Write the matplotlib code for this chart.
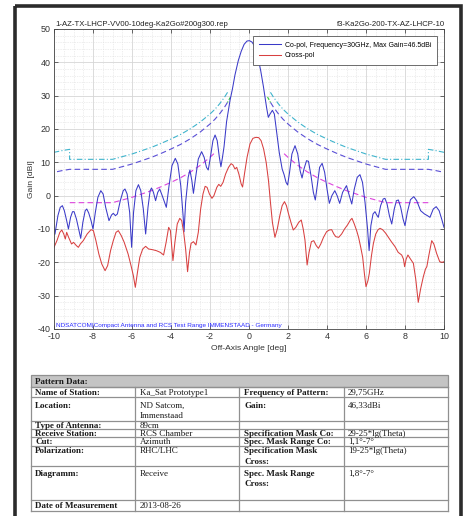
import numpy as np
import matplotlib
matplotlib.use("Agg")
import matplotlib.pyplot as plt
from matplotlib.patches import Rectangle
from matplotlib.ticker import MultipleLocator

# Co-pol pattern (deg, dBi)
co_deg = [-9.95, -9.8, -9.68, -9.57, -9.47, -9.35, -9.26, -9.15, -9.05, -8.97, -8.85, -8.72,
          -8.63, -8.52, -8.4, -8.32, -8.22, -8.1, -8.0, -7.88, -7.75, -7.6, -7.48, -7.35,
          -7.18, -7.05, -6.96, -6.85, -6.75, -6.6, -6.45, -6.36, -6.25, -6.12, -6.02, -5.92,
          -5.8, -5.67, -5.55, -5.42, -5.3, -5.18, -5.07, -5.0, -4.9, -4.79, -4.68, -4.58,
          -4.45, -4.24, -4.1, -3.95, -3.78, -3.65, -3.5, -3.38, -3.33, -3.25, -3.12, -3.03,
          -2.93, -2.85, -2.75, -2.6, -2.43, -2.3, -2.18, -2.09, -1.98, -1.85, -1.74, -1.63,
          -1.52, -1.44, -1.36, -1.28, -1.15, -0.97, -0.85, -0.72, -0.55, -0.4, -0.25, -0.1,
          0.02, 0.15, 0.3, 0.45, 0.6, 0.74, 0.9, 0.99, 1.08, 1.2, 1.3, 1.42, 1.55, 1.7, 1.8,
          1.9, 1.98, 2.08, 2.2, 2.36, 2.5, 2.62, 2.72, 2.82, 2.95, 3.05, 3.18, 3.3, 3.4, 3.5,
          3.62, 3.75, 3.88, 4.0, 4.12, 4.25, 4.4, 4.52, 4.65, 4.8, 5.0, 5.12, 5.27, 5.4, 5.55,
          5.69, 5.82, 5.95, 6.08, 6.16, 6.25, 6.36, 6.46, 6.55, 6.63, 6.75, 6.88, 6.97, 7.08,
          7.2, 7.32, 7.45, 7.56, 7.66, 7.78, 7.9, 8.0, 8.12, 8.28, 8.45, 8.6, 8.8, 9.0, 9.15,
          9.28, 9.45, 9.6, 9.75, 9.88, 10.0]
co_gain = [-11.5, -6, -3.5, -3.0, -4.5, -7.5, -10.0, -6.5, -4.8, -4.8, -7, -10.5,
           -12.8, -8, -4.5, -4.0, -5.2, -7.5, -10.0, -5, -0.5, 1.5, 0.5, -3.5,
           -7.5, -5.8, -5.3, -6.0, -5.5, -1.5, 1.5, 2.0, 0.5, -5, -15.5, -5,
           1.5, 3.3, 1.5, -4, -11.5, -3.5, 1.5, 2.3, 1.0, -1.5, 1.0, 2.0,
           0, -3.5, 3, 9, 11.2, 9.5, 3, -6, -10.8, -2, 5.5, 7.7,
           4.5, 0.7, 5, 11, 13.2, 11.5, 8.5, 7.7, 11.5, 16.5, 18.2, 16.5,
           11.5, 8.7, 11.5, 14.7, 22.2, 28.7, 32, 36.2, 40.5, 43.3, 45.4, 46.4,
           46.5, 46.1, 44.8, 41.8, 37.5, 32.7, 26.5, 23.5, 24.5, 25.6, 24.5, 19, 13, 8, 6.3,
           4, 3.2, 7, 12.5, 15.0, 12.5, 7.5, 5.3, 8, 10.5, 10.3, 6, 1, -1.3, 3,
           8.5, 9.7, 7, 2, -2.3, 0, 1.5, 0, -2.3, 1, 3.0, 0.5, -2.5, 2, 5.5,
           6.3, 4, -2, -10, -16.5, -9, -5.5, -4.8, -5.8, -6.5, -3, -1, -0.8, -2.5,
           -6, -8.5, -4, -1.5, -1.3, -3.5, -7, -9.0, -5, -1.2, -0.3, -1.5, -4.5, -5.5, -6.0,
           -6.5, -4, -3.3, -4.5, -7, -9.5]

# Cross-pol pattern (deg, dBi)
x_deg = [-10.0, -9.85, -9.7, -9.6, -9.5, -9.42, -9.35, -9.25, -9.1, -9.0, -8.85, -8.75,
         -8.65, -8.5, -8.3, -8.1, -7.98, -7.85, -7.7, -7.55, -7.38, -7.25, -7.1, -6.96,
         -6.82, -6.7, -6.55, -6.4, -6.2, -6.05, -5.93, -5.83, -5.72, -5.6, -5.45, -5.3,
         -5.15, -4.95, -4.75, -4.55, -4.38, -4.25, -4.12, -4.03, -3.95, -3.9, -3.8, -3.68,
         -3.55, -3.45, -3.35, -3.25, -3.15, -3.05, -2.97, -2.85, -2.72, -2.6, -2.48, -2.36,
         -2.25, -2.15, -2.03, -1.9, -1.8, -1.65, -1.55, -1.45, -1.33, -1.2, -1.05, -0.92,
         -0.82, -0.72, -0.63, -0.52, -0.4, -0.33, -0.22, -0.1, 0.05, 0.2, 0.35, 0.5, 0.62,
         0.75, 0.88, 1.0, 1.1, 1.2, 1.33, 1.45, 1.58, 1.7, 1.82, 1.92, 2.02, 2.15, 2.27,
         2.4, 2.55, 2.68, 2.78, 2.87, 2.98, 3.08, 3.2, 3.32, 3.45, 3.56, 3.68, 3.82, 3.98,
         4.12, 4.24, 4.35, 4.45, 4.6, 4.75, 4.9, 5.05, 5.2, 5.28, 5.4, 5.52, 5.62, 5.73,
         5.83, 5.92, 6.0, 6.1, 6.17, 6.28, 6.38, 6.5, 6.62, 6.72, 6.85, 7.0, 7.15, 7.3,
         7.49, 7.65, 7.83, 7.92, 7.98, 8.06, 8.15, 8.28, 8.43, 8.55, 8.68, 8.8, 8.94, 9.05,
         9.12, 9.22, 9.37, 9.48, 9.62, 9.78, 9.9, 10.0]
x_gain = [-15.5, -13.5, -11, -10.3, -11.5, -13, -11, -12.5, -14.5, -14, -15, -15.5,
          -14.5, -13.5, -11.5, -10.2, -10.5, -13.5, -17.5, -20.5, -22.5, -21, -16.5, -13.5,
          -11, -10.5, -12, -14, -17.5, -21, -24, -27.5, -23, -18.5, -16, -15.2,
          -16, -16.2, -16.5, -17, -17.8, -14, -9.5, -10.5, -16, -19.5, -14, -8.5,
          -6.8, -7.5, -11, -16, -22.8, -17, -14.3, -13.8, -14.8, -11, -4, 0.5,
          2.8, 2.5, 0.5, -0.8, 0, 2.5, 3.4, 2.8, 4, 6.5, 8.5, 9.6,
          9.2, 8, 8.5, 6.5, 3.5, 2.6, 7, 11.5, 15.5, 17.2, 17.5, 17.4, 16.5,
          14, 10, 4.5, -2, -8, -12.5, -10, -6, -3, -1.8, -3, -5.3, -8, -10.3,
          -9.5, -8, -7.3, -10, -13.3, -20.8, -17, -13.8, -13.5, -15, -15.8, -14.5, -12.5, -10.8,
          -10.3, -10.2, -11.5, -12.3, -12.5, -11.5, -10, -8.8, -7.3, -6.8, -8.5, -10.5, -12.5, -15.5,
          -18.5, -23.5, -27.3, -25.5, -23.3, -18, -14.3, -11.5, -10.2, -9.8, -10.2, -11.2, -12.5, -13.8,
          -15.3, -17, -17.8, -19, -21.3, -19, -17.8, -19, -20.3, -25, -32.0, -28, -24.3, -22,
          -21.3, -18, -13.5, -14.5, -17.3, -19.8, -20, -19.8]

mask_co_theta = [1.1, 1.25, 1.5, 1.75, 2.0, 2.5, 3.0, 3.5, 4.0, 4.5, 5.0, 5.5, 6.0, 6.5, 7.0, 9.2, 9.6, 10.0]
mask_co_gain = [28.0, 26.6, 24.6, 22.9, 21.5, 19.1, 17.1, 15.4, 14.0, 12.7, 11.5, 10.5, 9.5, 8.7, 7.9, 7.9, 7.5, 7.0]
mask_tol_theta = [1.1, 1.25, 1.5, 1.75, 2.0, 2.5, 3.0, 3.5, 4.0, 4.5, 5.0, 5.5, 6.0, 6.5, 7.0, 9.2, 9.2, 9.6, 10.0]
mask_tol_gain = [31.0, 29.6, 27.6, 25.9, 24.5, 22.1, 20.1, 18.4, 17.0, 15.7, 14.5, 13.5, 12.5, 11.7, 10.9, 10.9, 13.9, 13.5, 13.0]
mask_x_theta = [1.8, 2.0, 2.5, 3.0, 3.5, 4.0, 4.5, 5.0, 5.5, 6.0, 6.5, 7.0, 9.2]
mask_x_gain = [12.6, 11.5, 9.1, 7.1, 5.4, 4.0, 2.7, 1.5, 0.5, -0.5, -1.3, -2.1, -2.1]
mask_near_theta = [0.95, 1.1]
mask_near_gain = [29.6, 28.0]

# table contents
row_labels = ["Name of Station:", "Location:", "Type of Antenna:", "Receive Station:", "Cut:",
              "Polarization:", "Diagramm:", "Date of Measurement"]
row_values = ["Ka_Sat Prototype1", "ND Satcom,\nImmenstaad", "89cm", "RCS Chamber", "Azimuth",
              "RHC/LHC", "Receive", "2013-08-26"]
spec_labels = ["Frequency of Pattern:", "Gain:", "", "Specification Mask Co:", "Spec. Mask Range Co:",
               "Specification Mask\nCross:", "Spec. Mask Range\nCross:", ""]
spec_values = ["29,75GHz", "46,33dBi", "", "29-25*lg(Theta)", "1,1°-7°", "19-25*lg(Theta)", "1,8°-7°", ""]

plt.rcParams['font.family'] = ['Liberation Sans', 'DejaVu Sans']
plt.rcParams['axes.unicode_minus'] = False
W, H = 465, 516
fig = plt.figure(figsize=(W / 100, H / 100), dpi=100)
fig.patch.set_facecolor('white')

ax = fig.add_axes([54 / W, 1 - 329 / H, 390 / W, 300 / H])
ax.set_xlim(-10, 10)
ax.set_ylim(-40, 50)
ax.xaxis.set_major_locator(MultipleLocator(2))
ax.xaxis.set_minor_locator(MultipleLocator(0.5))
ax.yaxis.set_major_locator(MultipleLocator(10))
ax.yaxis.set_minor_locator(MultipleLocator(2))
ax.grid(which='major', color='#d6d6d6', lw=0.6)
ax.grid(which='minor', color='#dedede', lw=0.5, ls=(0, (1, 1.5)))
ax.set_axisbelow(True)
ax.tick_params(which='both', direction='in', top=True, right=True, colors='#333333', labelsize=6.4)
ax.tick_params(which='major', length=3, width=0.5, pad=2.5)
ax.tick_params(which='minor', length=0)
for s in ax.spines.values():
    s.set_color('#444444')
    s.set_linewidth(0.6)

# masks on both sides
for sgn in (-1, 1):
    ax.plot(sgn * np.array(mask_tol_theta), mask_tol_gain, color='#3fb4cc', lw=0.8, ls=(0, (5, 2, 1, 2)))
    ax.plot(sgn * np.array(mask_co_theta), mask_co_gain, color='#5a4fd6', lw=0.8, ls=(0, (5, 3)))
    ax.plot(sgn * np.array(mask_x_theta), mask_x_gain, color='#dd44dd', lw=0.8, ls=(0, (5, 3)))
    ax.plot(sgn * np.array(mask_near_theta), mask_near_gain, color='#33cc33', lw=0.8, ls=(0, (3, 1.5, 1, 1.5)))

l1, = ax.plot(co_deg, co_gain, color='#3a3ac8', lw=0.75)
l2, = ax.plot(x_deg, x_gain, color='#d84040', lw=0.75)

leg = ax.legend([l1, l2], ['Co-pol, Frequency=30GHz, Max Gain=46.5dBi', 'Cross-pol'],
                loc='upper right', bbox_to_anchor=(0.982, 0.977), borderaxespad=0, fontsize=5.0,
                handlelength=3.2, handletextpad=0.45, borderpad=0.85, labelspacing=0.5,
                fancybox=False, framealpha=1, edgecolor='#555555')
leg.get_frame().set_linewidth(0.6)

ax.set_xlabel('Off-Axis Angle [deg]', fontsize=6.1, color='#333333', labelpad=2.5)
ax.set_ylabel('Gain [dBi]', fontsize=6.1, color='#333333', labelpad=2)
ax.text(-9.92, -38.9, 'NDSATCOM|Compact Antenna and RCS Test Range IMMENSTAAD - Germany',
        fontsize=4.6, color='#2a2aff', va='center', ha='left')

# overlay in pixel coordinates for titles, table and frame
ov = fig.add_axes([0, 0, 1, 1])
ov.set_xlim(0, W)
ov.set_ylim(H, 0)
ov.axis('off')
ov.patch.set_visible(False)

ov.text(55, 24.5, '1-AZ-TX-LHCP-VV00-10deg-Ka2Go#200g300.rep', fontsize=5.55, color='#222222', va='center')
ov.text(445, 24.5, 'f3-Ka2Go-200-TX-AZ-LHCP-10', fontsize=5.55, color='#222222', va='center', ha='right')

# frame
ov.add_patch(Rectangle((15, 5.5), 445.5, 530, fill=False, lw=2.6, edgecolor='#2b2b2b', clip_on=False))

# table
tl, tr = 31, 448
cols = [31, 135, 239, 344, 448]
rows = [387, 397, 421, 429, 437, 446, 466, 500, 511]
text_y = [392.5, 405, 425, 433.3, 441.7, 450.8, 473.3, 505.6]
ov.add_patch(Rectangle((tl, 375), tr - tl, 12, facecolor='#c4c4c4', edgecolor='#909090', lw=0.9))
tkw = dict(fontsize=6.5, family='Liberation Serif', color='#1a1a1a', va='baseline')
ov.text(35, 381 + 2.6, 'Pattern Data:', fontweight='bold', **tkw)
for y in rows:
    ov.plot([tl, tr], [y, y], color='#909090', lw=0.9)
for x in cols:
    ov.plot([x, x], [rows[0], rows[-1]], color='#909090', lw=0.9)

cells = [(row_labels, cols[0] + 4, 'bold'), (row_values, cols[1] + 5, 'normal'),
         (spec_labels, cols[2] + 5, 'bold'), (spec_values, cols[3] + 4, 'normal')]
for texts, x0, weight in cells:
    for i, t in enumerate(texts):
        for k, line in enumerate(t.split('\n')):
            ov.text(x0, text_y[i] + 2.6 + 10.4 * k, line, fontweight=weight, **tkw)

fig.savefig('out.png', dpi=100)
